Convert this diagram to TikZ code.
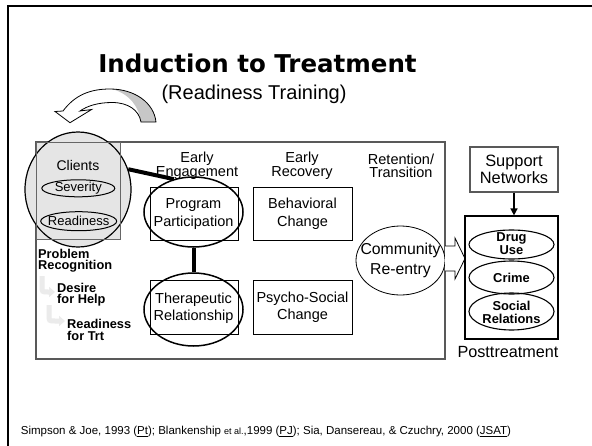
\documentclass[tikz,border=0pt]{standalone}
\usepackage{fontspec}
\setmainfont{Liberation Sans}
\newfontfamily\titlefont{DejaVu Sans}
\usetikzlibrary{shapes.geometric,arrows.meta}
\begin{document}
\begin{tikzpicture}[x=1pt,y=-1pt,
  lbl/.style={inner sep=0, align=center, font=\fontsize{14.5}{17.5}\selectfont},
  hdr/.style={inner sep=0, align=center, font=\fontsize{14.5}{12.5}\selectfont},
  sidelbl/.style={inner sep=0, align=left, anchor=west, font=\fontsize{12.8}{11.2}\selectfont\bfseries},
  outcome/.style={inner sep=0, align=center, font=\fontsize{12.9}{12.8}\selectfont\bfseries},
  boxr/.style={draw=black, line width=0.8pt, inner sep=0},
  ell/.style={ellipse, draw=black, inner sep=0, line width=1pt},
  bigline/.style={line width=4pt},
  faint/.style={draw=black!8, line width=5pt, -{Triangle[length=6pt,width=10pt]}}]
\useasboundingbox (0,0) rectangle (592,445);
\fill[white] (0,0) rectangle (592,445);
% outer frame
\draw[line width=2.2pt] (8.3,446) |- (593,6);
% title
\node[inner sep=0, anchor=base, font=\titlefont\bfseries\fontsize{24.5}{28}\selectfont] (title) at (257.5,72) {Induction to Treatment};
\node[inner sep=0, anchor=base, font=\fontsize{20}{22}\selectfont] (subtitle) at (254,99) {(Readiness Training)};
% curved arrow
\path[fill=white]
 (63,111) .. controls (75,95) and (90,89) .. (110,89)
 .. controls (135,89) and (154,103) .. (156,122)
 -- (141,122)
 .. controls (139,110) and (128,102.5) .. (112,102.5)
 .. controls (98,102.5) and (87,106) .. (80,111)
 -- (91.6,109.5) -- (70,122.7) -- (55,111.5) -- cycle;
\fill[black!22] (112,89) .. controls (135,89.5) and (154,103) .. (156,122) -- (141,122) .. controls (139,107) and (130,94) .. (112,89) -- cycle;
\draw[line width=0.8pt, line join=miter]
 (63,111) .. controls (75,95) and (90,89) .. (110,89)
 .. controls (135,89) and (154,103) .. (156,122)
 -- (141,122)
 .. controls (139,110) and (128,102.5) .. (112,102.5)
 .. controls (98,102.5) and (87,106) .. (80,111)
 -- (91.6,109.5) -- (70,122.7) -- (55,111.5) -- cycle;
% main box
\node[draw=black!65, line width=1.2pt, minimum width=409pt, minimum height=217pt, inner sep=0] (main) at (240.5,250.5) {};
% clients
\fill[black!10] (36,142) rectangle (120,239);
\node[ell, fill=black!10, line width=1.2pt, minimum width=106pt, minimum height=115pt] (clients) at (78,189.5) {};
\draw[black!60, line width=0.9pt] (36,142) rectangle (120,239);
\node[inner sep=0, font=\fontsize{14}{16}\selectfont] (clientslbl) at (78,165.5) {Clients};
\node[ell, minimum width=73pt, minimum height=17pt] (sev) at (78.3,188.3) {};
\node[inner sep=0, font=\fontsize{13}{15}\selectfont] at (sev) {Severity};
\node[ell, minimum width=76pt, minimum height=19pt] (rdy) at (78.7,221.2) {};
\node[inner sep=0, font=\fontsize{13}{15}\selectfont] at (rdy) {Readiness};
% headers
\node[hdr] (h1) at (197,166) {Early\\Engagement};
\node[hdr] (h2) at (302,166) {Early\\Recovery};
\node[hdr] (h3) at (401,166) {Retention/\\Transition};
% boxes
\node[boxr, minimum width=88pt, minimum height=53pt] (pbox) at (194,213.5) {};
\node[boxr, minimum width=88pt, minimum height=54pt] (tbox) at (194,307) {};
\node[boxr, minimum width=99pt, minimum height=53pt] (bbox) at (302.5,213.5) {};
\node[lbl] at (bbox) {Behavioral\\Change};
\node[boxr, minimum width=99pt, minimum height=54pt] (psbox) at (302.5,307) {};
\node[lbl] at (psbox) {Psycho-Social\\Change};
% ellipses
\node[ell, line width=1.5pt, minimum width=99pt, minimum height=70pt] (prog) at (193.5,212) {};
\node[lbl] at (193.5,214) {Program\\Participation};
\node[ell, line width=1.5pt, minimum width=99pt, minimum height=73pt] (ther) at (193.5,309.5) {};
\node[lbl] at (193.5,308) {Therapeutic\\Relationship};
\draw[bigline] (clients.22) -- (prog.121);
\draw[bigline] (prog.south) -- (ther.north);
% community
\node[ell, fill=white, line width=0.8pt, minimum width=89pt, minimum height=69pt] (comm) at (400.5,260.5) {};
\node[inner sep=0, align=center, font=\fontsize{15.8}{20}\selectfont] at (400.5,260) {Community\\Re-entry};
% block arrow
\draw[fill=white, line width=0.8pt, line join=miter] (445,246) -- (455,246) -- (455,238) -- (465,258.5) -- (455,279) -- (455,271) -- (445,271);
% side labels
\draw[faint] (42,276) -- (42,286) .. controls (42,292) .. (48,292) -- (55,292);
\draw[faint] (49,305) -- (49,315) .. controls (49,321) .. (55,321) -- (65,321);
\node[sidelbl] (prob) at (38,260.5) {Problem\\Recognition};
\node[sidelbl] (desire) at (57,295) {Desire\\for Help};
\node[sidelbl] (ready) at (67,330) {Readiness\\for Trt};
% support and posttreatment
\node[draw=black!65, line width=1.3pt, minimum width=88pt, minimum height=45pt, inner sep=0] (sup) at (514,169.5) {};
\node[inner sep=0, align=center, font=\fontsize{16.4}{16.5}\selectfont] at (514,169.5) {Support\\Networks};
\node[draw=black, line width=1.2pt, minimum width=93pt, minimum height=123pt, inner sep=0] (post) at (511.5,277.5) {};
\draw[line width=1.5pt, -{Triangle[length=7pt,width=7pt]}] (sup.south) -- (sup.south |- post.north);
\node[ell, line width=1.1pt, minimum width=85pt, minimum height=29pt] (drug) at (511.5,244.5) {};
\node[outcome] at (511.5,243.5) {Drug\\Use};
\node[ell, line width=1.1pt, minimum width=85pt, minimum height=33pt] (crime) at (511.5,277.5) {};
\node[outcome] at (crime) {Crime};
\node[ell, line width=1.1pt, minimum width=85pt, minimum height=37pt] (social) at (511.5,311.5) {};
\node[outcome] at (511.5,312) {Social\\Relations};
\node[inner sep=0, font=\fontsize{16.2}{18}\selectfont] (postlbl) at (508,352) {Posttreatment};
% footer
\node[inner sep=0, anchor=west, font=\fontsize{11.5}{13}\selectfont] (foot) at (20.7,432) {Simpson \& Joe, 1993 (\underline{Pt}); Blankenship {\fontsize{9}{10}\selectfont et al.},1999 (\underline{PJ}); Sia, Dansereau, \& Czuchry, 2000 (\underline{JSAT})};
\end{tikzpicture}
\end{document}
